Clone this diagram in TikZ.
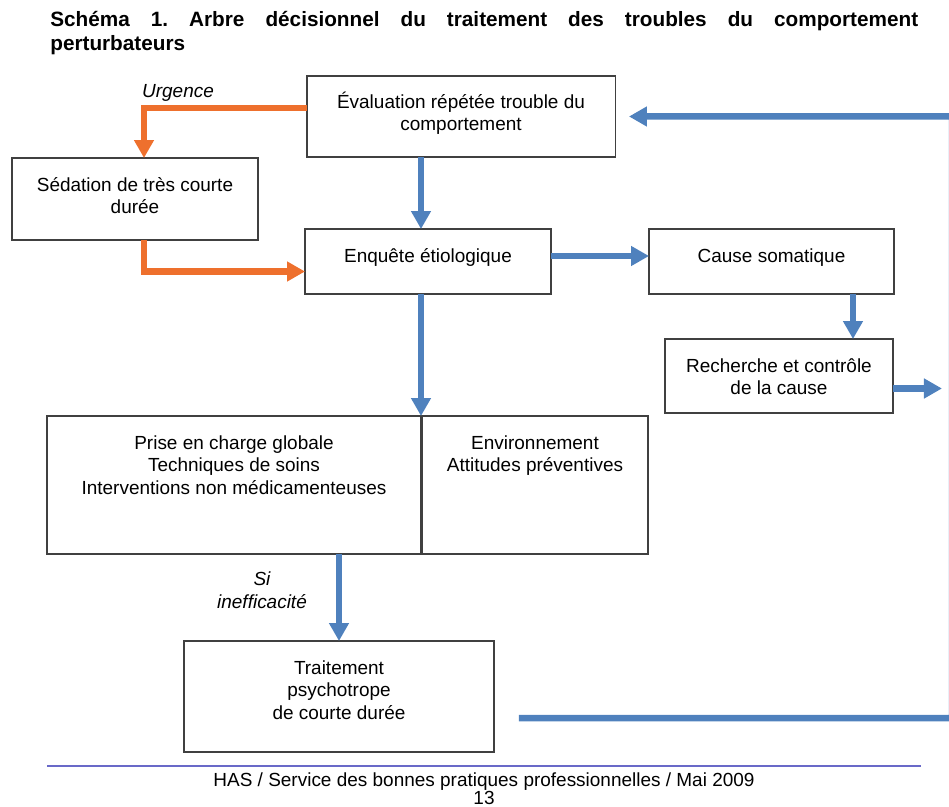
\documentclass[tikz,border=0pt]{standalone}
\usepackage{fontspec}
\setmainfont{Liberation Sans}
\usepackage{tikz}
\usetikzlibrary{arrows.meta}
\usetikzlibrary{positioning}
\usetikzlibrary{calc}
\definecolor{bleufl}{RGB}{79,129,189}
\definecolor{orangefl}{RGB}{238,112,45}
\definecolor{bleupied}{RGB}{105,105,200}
\tikzstyle{boite}=[draw=black!75,line width=1.1pt,inner sep=0pt,outer sep=0pt]
\tikzstyle{texte}=[align=center,inner sep=0pt,font=\fontsize{10.8}{12.8}\selectfont]
\tikzstyle{fleche}=[draw=bleufl,line width=3.7pt,-{Triangle[length=0.36cm,width=0.38cm]}]
\tikzstyle{urgence}=[fleche,draw=orangefl]
\frenchspacing

\begin{document}
\begin{tikzpicture}[x=0.02cm,y=-0.02cm]
\useasboundingbox (0,0) rectangle (949,807);

\node[anchor=north west,inner sep=0pt,font=\bfseries\fontsize{11.8}{13.8}\selectfont] (titre) at (50,11)
  {\parbox{17.36cm}{Schéma 1. Arbre décisionnel du traitement des troubles du comportement\linebreak perturbateurs}};

% les boites
\node[boite,minimum width=6.18cm,minimum height=1.62cm] (eval) at (461,116.5) {};
\node[boite,minimum width=4.92cm,minimum height=1.64cm] (sedation) at (135,199) {};
\node[boite,minimum width=4.92cm,minimum height=1.3cm] (enquete) at (428,261.5) {};
\node[boite,minimum width=4.9cm,minimum height=1.3cm] (cause) at (771.5,261.5) {};
\node[boite,minimum width=4.56cm,minimum height=1.48cm] (recherche) at (779,376) {};
\node[boite,minimum width=7.48cm,minimum height=2.76cm] (prise) at (234,485) {};
\node[boite,minimum width=4.52cm,minimum height=2.76cm] (env) at (535,485) {};
\node[boite,minimum width=6.2cm,minimum height=2.22cm] (traitement) at (339,696.5) {};

\node[texte,below=0.31cm of eval.north] (evaltxt) {Évaluation répétée trouble du\\comportement};
\node[texte,below=0.38cm of sedation.north] (sedationtxt) {Sédation de très courte\\durée};
\node[texte,below=0.38cm of enquete.north] (enquetetxt) {Enquête étiologique};
\node[texte,below=0.38cm of cause.north] (causetxt) {Cause somatique};
\node[texte,below=0.38cm of recherche.north] (recherchetxt) {Recherche et contrôle\\de la cause};
\node[texte,below=0.38cm of prise.north] (prisetxt) {Prise en charge globale\\Techniques de soins\\Interventions non médicamenteuses};
\node[texte,below=0.38cm of env.north] (envtxt) {Environnement\\Attitudes préventives};
\node[texte,below=0.38cm of traitement.north] (traitementtxt) {Traitement\\psychotrope\\de courte durée};

% urgence
\draw[urgence] ([yshift=0.17cm]eval.west) -| ([xshift=0.18cm]sedation.north);
\draw[urgence] ([xshift=0.18cm]sedation.south) |- ([yshift=-0.2cm]enquete.west);
\node[texte,font=\itshape\fontsize{10.8}{12.8}\selectfont,anchor=base] (urg) at (178,98) {Urgence};

\coordinate (e1) at ([xshift=-0.14cm]enquete.north);
\draw[fleche] (e1 |- eval.south) -- (e1);
\coordinate (e2) at ([yshift=0.11cm]enquete.east);
\draw[fleche] (e2) -- (e2 -| cause.west);
\coordinate (c1) at ([xshift=1.63cm]cause.south);
\draw[fleche] (c1) -- (c1 |- recherche.north);
\coordinate (r1) at ([yshift=-0.25cm]recherche.east);
\coordinate (sortie) at ([xshift=0.98cm]r1);
\draw[fleche] (r1) -- (sortie);
\coordinate (e3) at ([xshift=-0.14cm]enquete.south);
\draw[fleche] (e3) -- (e3 |- prise.north);
\draw[fleche] (prise.south -| traitement.north) -- (traitement.north);
\node[texte,font=\itshape\fontsize{10.8}{12.8}\selectfont,anchor=north] (sieff) at (262,571.5) {Si\\inefficacité};

% retour vers l'evaluation
\coordinate (t1) at ([xshift=0.5cm,yshift=-0.43cm]traitement.east);
\coordinate (basdroite) at (952,718);
\coordinate (hautdroite) at (952,116.5);
\draw[fleche,shorten >=0.27cm] (t1) -- (basdroite) -- (hautdroite) -- (eval.east);

% pied de page
\coordinate (pg) at (47,766);
\coordinate (pd) at (921,766);
\draw[bleupied,line width=0.85pt] (pg) -- (pd);
\node[texte,anchor=base] (pied) at (484,786) {HAS / Service des bonnes pratiques professionnelles / Mai 2009};
\node[texte,anchor=base] (page) at (484,804) {13};
\end{tikzpicture}
\end{document}
